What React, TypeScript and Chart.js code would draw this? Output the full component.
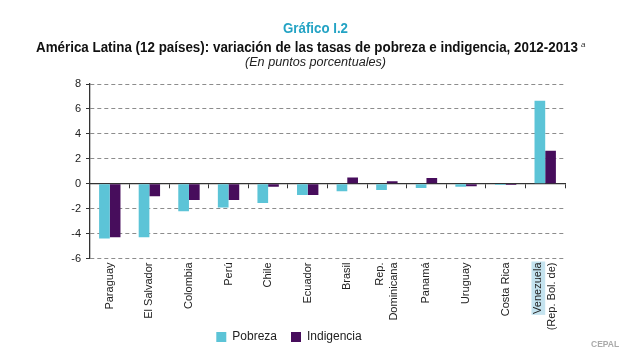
import React, { useEffect, useRef } from "react";
import { Chart, registerables } from "chart.js";

Chart.register(...registerables);

const categories: (string | string[])[] = [
  "Paraguay",
  "El Salvador",
  "Colombia",
  "Perú",
  "Chile",
  "Ecuador",
  "Brasil",
  ["Rep.", "Dominicana"],
  "Panamá",
  "Uruguay",
  "Costa Rica",
  ["Venezuela", "(Rep. Bol. de)"],
];
const pobreza = [-4.4, -4.3, -2.2, -1.9, -1.55, -0.9, -0.6, -0.5, -0.35, -0.25, -0.1, 6.65];
const indigencia = [-4.3, -1.0, -1.3, -1.3, -0.25, -0.9, 0.5, 0.2, 0.45, -0.2, -0.1, 2.65];
const yMin = -6;
const yMax = 8;
const yStep = 2;

const titleTop = "Gráfico I.2";
const titleMain = "América Latina (12 países): variación de las tasas de pobreza e indigencia, 2012-2013";
const titleNote = "a";
const subtitle = "(En puntos porcentuales)";
const source = "CEPAL";

const FAM = "'Liberation Sans', Arial, sans-serif";
const LH = 1.25;
const FS = 11;

let measureCtx: CanvasRenderingContext2D | null = null;
function measure(text: string, font: string): number {
  if (!measureCtx) measureCtx = document.createElement("canvas").getContext("2d");
  if (!measureCtx) return 1;
  measureCtx.font = font;
  return measureCtx.measureText(text).width || 1;
}

function FitText(props: {
  text: string;
  size: number;
  weight?: string;
  italic?: boolean;
  color: string;
  left: number;
  width: number;
  baseline: number;
}) {
  const { text, size, weight = "normal", italic = false, color, left, width, baseline } = props;
  const font = `${italic ? "italic " : ""}${weight} ${size}px ${FAM}`;
  const w = measure(text, font);
  const s = width / w;
  const lh = Math.round(size * 1.3);
  const top = baseline - (lh - 1.117 * size) / 2 - 0.905 * size;
  return (
    <span
      style={{
        position: "absolute",
        left,
        top,
        display: "block",
        whiteSpace: "nowrap",
        fontFamily: FAM,
        fontSize: size,
        fontWeight: weight as any,
        fontStyle: italic ? "italic" : "normal",
        lineHeight: `${lh}px`,
        color,
        transform: `scaleX(${s})`,
        transformOrigin: "left top",
      }}
    >
      {text}
    </span>
  );
}

const highlightPlugin = {
  id: "highlightVenezuela",
  beforeDraw(chart: any) {
    const sc = chart.scales.xm;
    if (!sc) return;
    const idx = categories.length - 1;
    const lbl = categories[idx];
    if (!Array.isArray(lbl)) return;
    const ctx = chart.ctx;
    ctx.save();
    ctx.font = `${FS}px ${FAM}`;
    const w = ctx.measureText(lbl[0]).width;
    const lh = FS * LH;
    const cx = sc.getPixelForTick(idx) - lh / 2;
    const top = chart.chartArea.bottom + 4;
    ctx.fillStyle = "#c4e3ef";
    ctx.fillRect(cx - lh / 2, top - 1, lh, w + 2);
    ctx.restore();
  },
};

function labelAxis(pick: (i: number) => string | string[], labelOffset: number) {
  return {
    type: "category",
    axis: "x",
    position: { y: yMin },
    offset: true,
    grid: { display: false, drawTicks: false },
    border: { display: false },
    ticks: {
      autoSkip: false,
      maxRotation: 90,
      minRotation: 90,
      padding: 4,
      labelOffset,
      color: "#222",
      font: { size: FS, family: FAM, lineHeight: LH },
      callback: (_v: any, i: number) => pick(i),
    },
  };
}

export default function App() {
  const ref = useRef<HTMLCanvasElement>(null);
  useEffect(() => {
    if (!ref.current) return;
    const singleOnly = (i: number) => (Array.isArray(categories[i]) ? "" : (categories[i] as string));
    const multiOnly = (i: number) => (Array.isArray(categories[i]) ? (categories[i] as string[]) : "");
    const chart = new Chart(ref.current, {
      type: "bar",
      data: {
        labels: categories as any,
        datasets: [
          {
            label: "Pobreza",
            data: pobreza,
            backgroundColor: "#5cc4d7",
            borderWidth: 0,
            categoryPercentage: 0.54,
            barPercentage: 1,
          },
          {
            label: "Indigencia",
            data: indigencia,
            backgroundColor: "#470d5c",
            borderWidth: 0,
            categoryPercentage: 0.54,
            barPercentage: 1,
          },
        ],
      },
      options: {
        animation: false,
        responsive: false,
        devicePixelRatio: 1,
        layout: { padding: { top: 84, left: 13, right: 59, bottom: -2 } },
        plugins: {
          title: { display: false },
          tooltip: { enabled: false },
          legend: {
            position: "bottom",
            labels: {
              boxWidth: 10,
              boxHeight: 10,
              padding: 14,
              color: "#222",
              font: { size: 12, family: FAM },
            },
          },
        },
        scales: {
          x: {
            type: "category",
            position: "bottom",
            offset: true,
            grid: { display: false, drawTicks: false },
            border: { display: false },
            ticks: { display: false },
            afterFit: (s: any) => {
              s.height = 58.5;
            },
          },
          xs: labelAxis(singleOnly, 0),
          xm: labelAxis(multiOnly, -(FS * LH) / 2),
          x0: {
            type: "category",
            axis: "x",
            position: { y: 0 },
            offset: true,
            grid: {
              display: true,
              offset: true,
              drawOnChartArea: false,
              drawTicks: true,
              tickLength: 4,
              color: "#333",
              tickColor: "#333",
            },
            border: { display: true, color: "#333", width: 1.3 },
            ticks: { display: false },
          },
          y: {
            type: "linear",
            min: yMin,
            max: yMax,
            grid: {
              color: (c: any) => (c.tick && c.tick.value === 0 ? "rgba(0,0,0,0)" : "#8c8c8c"),
              tickColor: "#333",
              tickLength: 4,
              tickBorderDash: [],
              lineWidth: 1,
            },
            border: { display: true, color: "#333", width: 1.3, dash: [4, 3] },
            ticks: {
              stepSize: yStep,
              padding: 5,
              color: "#222",
              font: { size: FS, family: FAM },
            },
            afterFit: (s: any) => {
              s.width = 77;
            },
          },
        },
      } as any,
      plugins: [highlightPlugin],
    });
    return () => chart.destroy();
  }, []);

  return (
    <div style={{ position: "absolute", left: 0, top: 0, width: 624, height: 351, background: "#fff", overflow: "hidden" }}>
      <canvas ref={ref} width={624} height={351} style={{ position: "absolute", left: 0, top: 0 }} />
      <FitText text={titleTop} size={14} weight="bold" color="#23a3c4" left={283} width={65} baseline={32.5} />
      <FitText text={titleMain} size={14.3} weight="bold" color="#111" left={36} width={542} baseline={52.7} />
      <span
        style={{
          position: "absolute",
          left: 581,
          top: 40,
          fontFamily: FAM,
          fontSize: 8,
          fontStyle: "italic",
          color: "#333",
          lineHeight: "10px",
        }}
      >
        {titleNote}
      </span>
      <FitText text={subtitle} size={12} italic color="#222" left={245} width={141} baseline={66.5} />
      <span
        style={{
          position: "absolute",
          left: 591,
          top: 339,
          fontFamily: FAM,
          fontWeight: "bold",
          fontSize: 8.5,
          color: "#aaa",
          lineHeight: "10px",
        }}
      >
        {source}
      </span>
    </div>
  );
}
